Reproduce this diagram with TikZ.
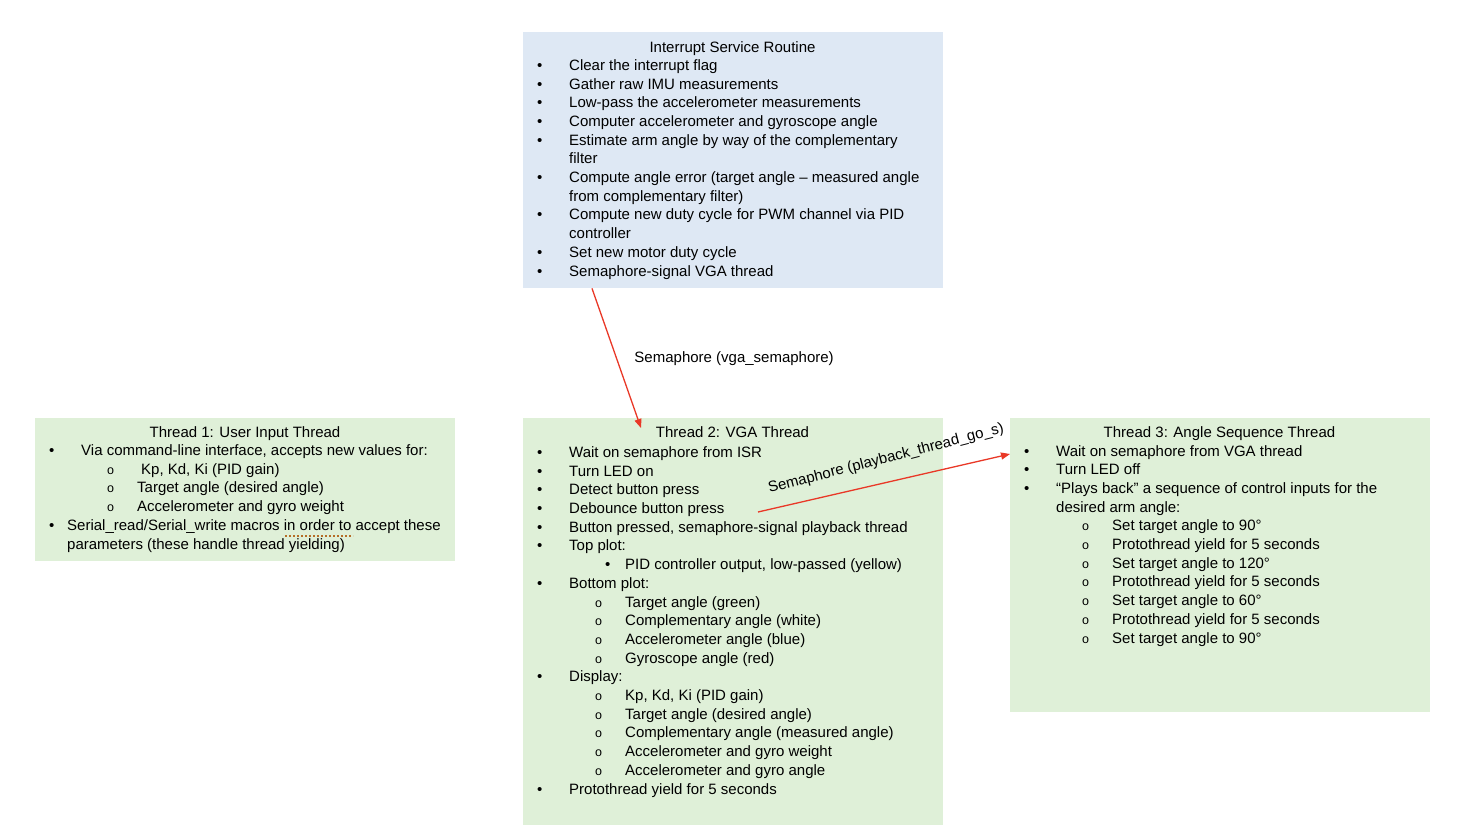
\documentclass[tikz,border=0pt]{standalone}
\usepackage{fontspec}
\setmainfont{Liberation Sans}
\usetikzlibrary{arrows.meta,calc}

\definecolor{isrblue}{RGB}{222,232,244}
\definecolor{threadgreen}{RGB}{223,240,216}
\definecolor{arrowred}{RGB}{233,56,39}
\definecolor{grammarbrown}{RGB}{181,110,40}

\newcommand{\smallo}{{\fontsize{12.5}{12.5}\selectfont o}}
\newcommand{\itemone}[1]{\makebox[32pt][l]{\textbullet}#1}
\newcommand{\itemcont}[1]{\hspace*{32pt}#1}
\newcommand{\itemtwo}[1]{\hspace*{58pt}\makebox[30pt][l]{\smallo}#1}
\newcommand{\itemdot}[1]{\hspace*{68pt}\makebox[20pt][l]{\textbullet}#1}

\tikzset{
  isrbox/.style={fill=isrblue, anchor=north west, inner sep=0pt},
  threadbox/.style={fill=threadgreen, anchor=north west, inner sep=0pt},
  boxtitle/.style={anchor=base, inner sep=0pt},
  boxlist/.style={align=left, anchor=base west, inner sep=0pt},
  semarrow/.style={draw=arrowred, line width=1.3pt, -{Triangle[length=9pt,width=7pt]}},
}

\begin{document}
\begin{tikzpicture}[x=1pt, y=-1pt, font=\fontsize{15}{18.7}\selectfont]
\useasboundingbox (0,0) rectangle (1472,830);

% boxes
\node[isrbox, minimum width=420pt, minimum height=256pt] (isr) at (523,32) {};
\node[threadbox, minimum width=420pt, minimum height=143pt] (userthread) at (35,418) {};
\node[threadbox, minimum width=420pt, minimum height=407pt] (vgathread) at (523,418) {};
\node[threadbox, minimum width=420pt, minimum height=294pt] (seqthread) at (1010,418) {};

% interrupt service routine (list placed by its last line)
\node[boxtitle] (isrtitle) at (732.5,52) {Interrupt Service Routine};
\node[boxlist] (isrlist) at (537,276) {%
\itemone{Clear the interrupt flag}\\
\itemone{Gather raw IMU measurements}\\
\itemone{Low-pass the accelerometer measurements}\\
\itemone{Computer accelerometer and gyroscope angle}\\
\itemone{Estimate arm angle by way of the complementary}\\
\itemcont{filter}\\
\itemone{Compute angle error (target angle \textendash{} measured angle}\\
\itemcont{from complementary filter)}\\
\itemone{Compute new duty cycle for PWM channel via PID}\\
\itemcont{controller}\\
\itemone{Set new motor duty cycle}\\
\itemone{Semaphore-signal VGA thread}};

% thread 1
\node[boxtitle] (usertitle) at (245,437) {Thread 1: User Input Thread};
\node[boxlist] (userlist) at (49,549) {%
\itemone{Via command-line interface, accepts new values for:}\\
\hspace*{58pt}\makebox[34pt][l]{\smallo}Kp, Kd, Ki (PID gain)\\
\itemtwo{Target angle (desired angle)}\\
\itemtwo{Accelerometer and gyro weight}\\
\makebox[18pt][l]{\textbullet}Serial\_read/Serial\_write macros in order to accept these\\
\hspace*{18pt}parameters (these handle thread yielding)};
\draw[grammarbrown, line width=1.6pt, dash pattern=on 2pt off 2pt] (285,536) -- (353,536);

% thread 2
\node[boxtitle] (vgatitle) at (732.5,437) {Thread 2: VGA Thread};
\node[boxlist] (vgalist) at (537,794) {%
\itemone{Wait on semaphore from ISR}\\
\itemone{Turn LED on}\\
\itemone{Detect button press}\\
\itemone{Debounce button press}\\
\itemone{Button pressed, semaphore-signal playback thread}\\
\itemone{Top plot:}\\
\itemdot{PID controller output, low-passed (yellow)}\\
\itemone{Bottom plot:}\\
\itemtwo{Target angle (green)}\\
\itemtwo{Complementary angle (white)}\\
\itemtwo{Accelerometer angle (blue)}\\
\itemtwo{Gyroscope angle (red)}\\
\itemone{Display:}\\
\itemtwo{Kp, Kd, Ki (PID gain)}\\
\itemtwo{Target angle (desired angle)}\\
\itemtwo{Complementary angle (measured angle)}\\
\itemtwo{Accelerometer and gyro weight}\\
\itemtwo{Accelerometer and gyro angle}\\
\itemone{Protothread yield for 5 seconds}};

% thread 3
\node[boxtitle] (seqtitle) at (1219.5,437) {Thread 3: Angle Sequence Thread};
\node[boxlist] (seqlist) at (1024,643) {%
\itemone{Wait on semaphore from VGA thread}\\
\itemone{Turn LED off}\\
\itemone{“Plays back” a sequence of control inputs for the}\\
\itemcont{desired arm angle:}\\
\itemtwo{Set target angle to 90°}\\
\itemtwo{Protothread yield for 5 seconds}\\
\itemtwo{Set target angle to 120°}\\
\itemtwo{Protothread yield for 5 seconds}\\
\itemtwo{Set target angle to 60°}\\
\itemtwo{Protothread yield for 5 seconds}\\
\itemtwo{Set target angle to 90°}};

% semaphores
\coordinate (isrout) at ($(isr.south west)+(69,0)$);
\coordinate (vgain) at ($(vgathread.north west)+(118,10)$);
\draw[semarrow] (isrout) -- node[midway, anchor=west, xshift=14pt] (vgalabel) {Semaphore (vga\_semaphore)} (vgain);

\coordinate (btnout) at ($(vgathread.north west)+(235,94)$);
\coordinate (seqin) at ($(seqthread.north west)+(0,36)$);
\draw[semarrow] (btnout) -- node[pos=0.53, sloped, above=12pt, rotate=1.5] (playlabel) {Semaphore (playback\_thread\_go\_s)} (seqin);
\end{tikzpicture}
\end{document}
